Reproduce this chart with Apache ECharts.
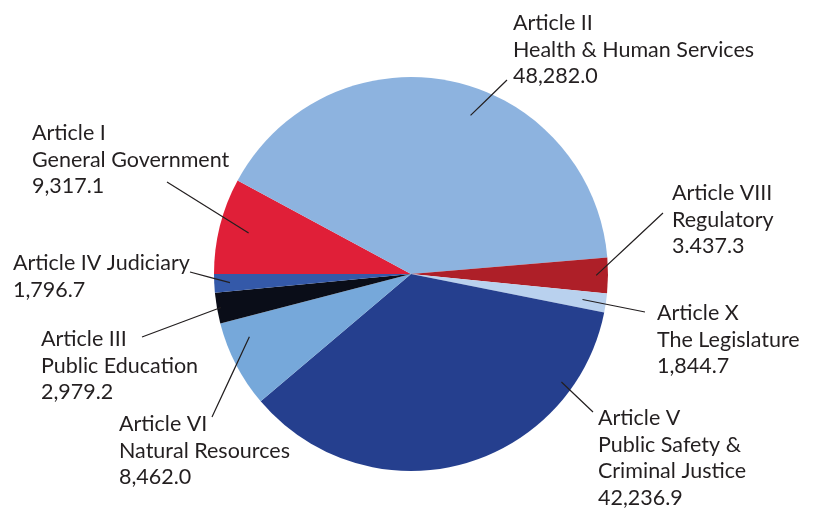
<!DOCTYPE html>
<html><head><meta charset="utf-8">
<script src="https://cdn.jsdelivr.net/npm/echarts@6/dist/echarts.min.js"></script>
<style>html,body{margin:0;padding:0;background:#fff}#c{width:814px;height:508px}</style>
</head><body><div id="c"></div>
<script>
// ---- data ----
const categories = ['Article I\nGeneral Government', 'Article II\nHealth & Human Services', 'Article VIII\nRegulatory', 'Article X\nThe Legislature', 'Article V\nPublic Safety &\nCriminal Justice', 'Article VI\nNatural Resources', 'Article III\nPublic Education', 'Article IV Judiciary'];
const values = [9317.1, 48282.0, 3437.3, 1844.7, 42236.9, 8462.0, 2979.2, 1796.7];
const valueLabels = ['9,317.1', '48,282.0', '3.437.3', '1,844.7', '42,236.9', '8,462.0', '2,979.2', '1,796.7'];

// ---- styles / layout ----
const colors = ['#E01F38', '#8DB3DF', '#AE1F28', '#B9D1EE', '#253F8E', '#76A8DA', '#0A0D18', '#3459A9'];
const labelTopLeft = [[32,120],[513,10],[672,180],[657,300],[598,405],[119,411],[41,326],[13,250]];
const lineEnd = [[167,182],[507,80],[663,213],[645,312],[593,412],[212,417],[142,337],[190,272]];
const lineStart = [[0.5,0.85],[0.56,0.86],[0.5,0.94],[0.5,0.88],[0.19,0.94],[0.74,0.88],[0.5,0.98],[0.5,0.92]];
const CX = 411, CY = 274, R = 197, START = 180;

const total = values.reduce((a,b)=>a+b,0);
function startPoint(i){
  let before = 0; for (let k=0;k<i;k++) before += values[k];
  const a0 = START - before/total*360;
  const a1 = a0 - values[i]/total*360;
  const a = (a0 + lineStart[i][0]*(a1-a0)) * Math.PI/180;
  const r = R*lineStart[i][1];
  return [CX + r*Math.cos(a), CY - r*Math.sin(a)];
}

const base = {
  type: 'pie',
  center: [CX, CY],
  radius: R,
  startAngle: START,
  clockwise: true,
  avoidLabelOverlap: false,
  emphasis: {disabled: true},
  silent: true
};

const chart = echarts.init(document.getElementById('c'), null, {renderer:'canvas'});
chart.setOption({
  animation: false,
  backgroundColor: '#ffffff',
  series: [
    Object.assign({}, base, {
      z: 2,
      itemStyle: {borderWidth: 0},
      data: categories.map((n,i)=>({name:n, value:values[i], itemStyle:{color:colors[i]}})),
      label: {show: false},
      labelLine: {show: false}
    }),
    Object.assign({}, base, {
      z: 5,
      itemStyle: {borderWidth: 0, color: 'rgba(0,0,0,0)'},
      data: categories.map((n,i)=>({name:n, value:values[i]})),
      label: {
        show: true,
        position: 'outside',
        formatter: p => p.name + '\n' + valueLabels[p.dataIndex],
        color: '#231F20',
        fontFamily: 'Lato',
        fontSize: 21.5,
        lineHeight: 26.5,
        align: 'left'
      },
      labelLine: {show: true, showAbove: true, length: 10, length2: 10, lineStyle: {color: '#231F20', width: 1.2}},
      labelLayout: function(params){
        const i = params.dataIndex;
        const s = startPoint(i);
        const e = lineEnd[i];
        return {
          x: labelTopLeft[i][0], y: labelTopLeft[i][1],
          align: 'left', verticalAlign: 'top',
          labelLinePoints: [s, [(s[0]+e[0])/2,(s[1]+e[1])/2], e]
        };
      }
    })
  ]
});
</script></body></html>
